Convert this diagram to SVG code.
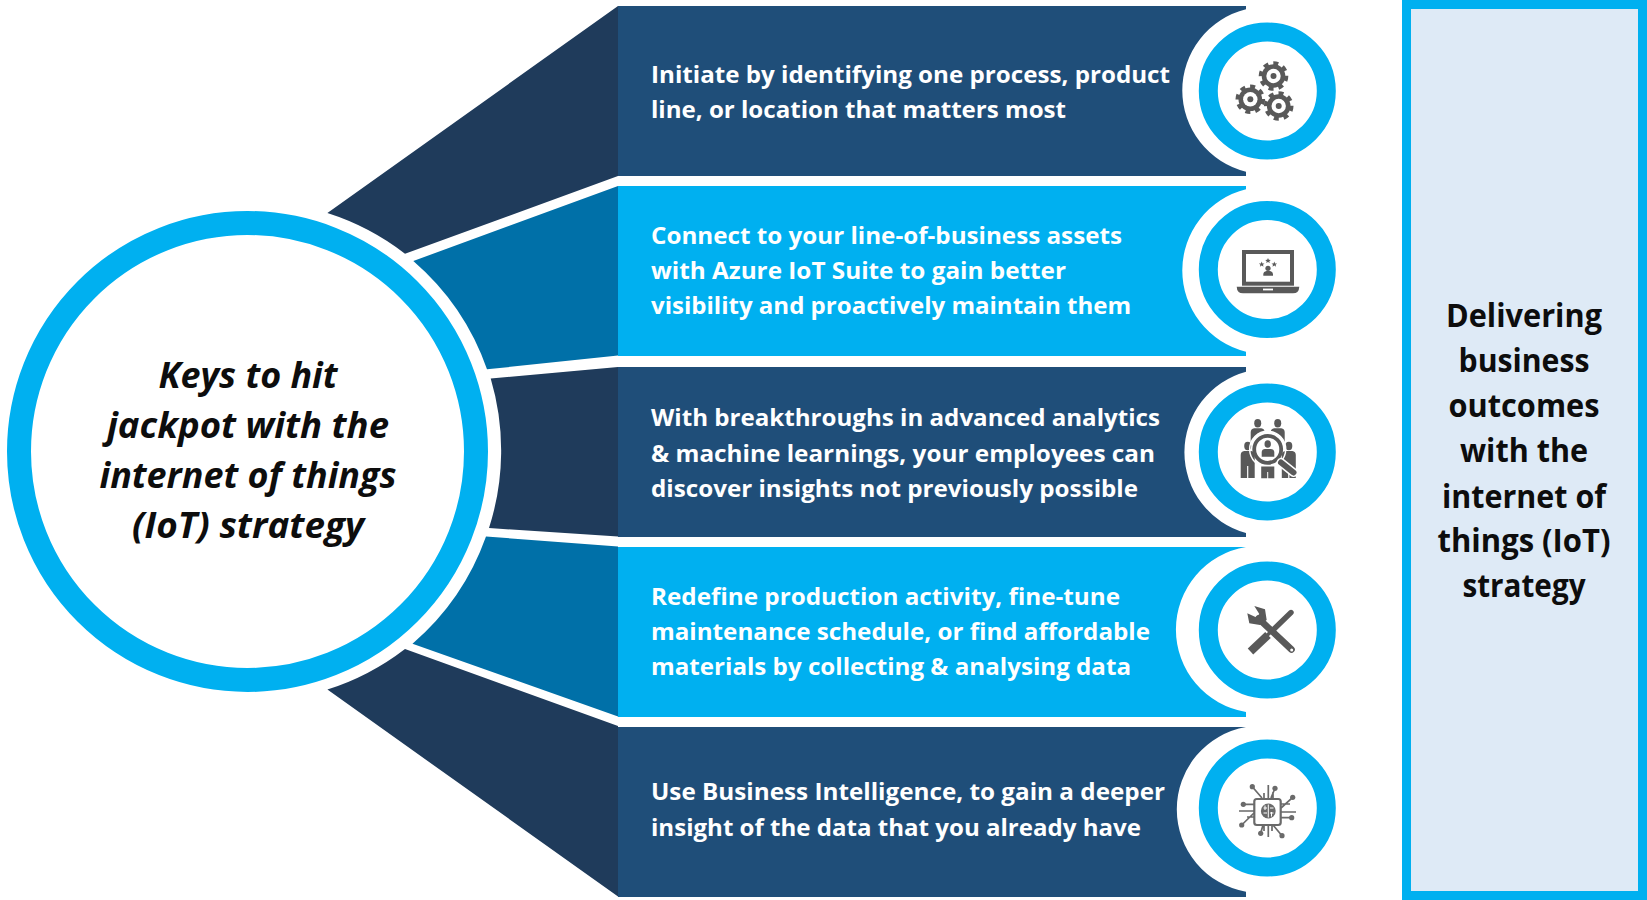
<svg xmlns="http://www.w3.org/2000/svg" width="1647" height="900" viewBox="0 0 1647 900">
<style>
text{font-family:"Open Sans","Noto Sans","Liberation Sans",sans-serif;font-weight:700}
.t{font-size:24px;fill:#fff}
.c{font-size:36px;font-style:italic;fill:#0d0d0d;text-anchor:middle}
.r{font-size:32px;fill:#0d0d0d;text-anchor:middle}
.dk{fill:#1f4e79}.lt{fill:#00b0f0}.dw{fill:#1f3b5b}.mw{fill:#0070a8}
.ring{fill:#fff;stroke:#00b0f0;stroke-width:19}
.g{fill:#595959}.w{fill:#fff}
.teeth{fill:none;stroke:#595959;stroke-width:4.4;stroke-dasharray:4.9 4.9}
.tr{fill:none;stroke:#6a6a6a;stroke-width:1.7}
.d{fill:#6a6a6a}
</style>
<defs>
<g id="gear"><circle class="teeth" r="12.6"/><circle class="g" r="11.8"/><circle class="w" r="7.2"/><circle class="g" r="3"/></g>
<polygon id="star" class="g" points="0,-2.8 .8,-.9 2.8,-.8 1.3,.5 1.8,2.4 0,1.3 -1.8,2.4 -1.3,.5 -2.8,-.8 -.8,-.9"/>
<g id="person"><ellipse class="g" cx="0" cy="0" rx="3.5" ry="4.2"/><path class="g" d="M-7,32V9Q-7,5.5 -3.5,5H3.5Q7,5.5 7,9V32H.6V20H-.6V32Z"/></g>
</defs>

<g id="node-1">
<path class="dw" d="M327.4,213L618,6V176L405,253.7A253 253 0 0 0 327.4,213Z"/>
<path class="dk" d="M618,6H1246V9.3A83.6 83.6 0 0 0 1246,171.7V176H618Z"/>
<text class="t" x="651" y="82.5" textLength="519" lengthAdjust="spacingAndGlyphs">Initiate by identifying one process, product</text>
<text class="t" x="651" y="118" textLength="415" lengthAdjust="spacingAndGlyphs">line, or location that matters most</text>
<circle class="ring" cx="1267.3" cy="91" r="59"/>
<g id="icon-gears"><use href="#gear" x="1273.5" y="76"/><use href="#gear" x="1250.3" y="99.3"/><use href="#gear" x="1278.7" y="106"/></g>
</g>

<g id="node-2">
<path class="mw" d="M413.3,261L618,186V355.5L487,369.3A253 253 0 0 0 413.3,261Z"/>
<path class="lt" d="M618,186H1246V189.3A83.6 83.6 0 0 0 1246,351.7V356H618Z"/>
<text class="t" x="651" y="243.5" textLength="471" lengthAdjust="spacingAndGlyphs">Connect to your line-of-business assets</text>
<text class="t" x="651" y="279" textLength="415" lengthAdjust="spacingAndGlyphs">with Azure IoT Suite to gain better</text>
<text class="t" x="651" y="314" textLength="480" lengthAdjust="spacingAndGlyphs">visibility and proactively maintain them</text>
<circle class="ring" cx="1267.3" cy="269.5" r="59"/>
<g id="icon-laptop">
<rect class="g" x="1242" y="250" width="52" height="35.7"/><rect class="w" x="1246" y="254" width="44" height="27.7"/>
<path class="g" d="M1236.7,286.7H1299.3Q1299,293.3 1293,293.3H1243Q1237,293.3 1236.7,286.7Z"/><rect class="w" x="1263" y="288.6" width="10" height="1.8"/>
<use href="#star" x="1261.7" y="264.3"/><use href="#star" x="1268" y="260.7"/><use href="#star" x="1274.3" y="264.3"/>
<circle class="g" cx="1268" cy="268.3" r="2.6"/><path class="g" d="M1263.3,275.7V274Q1263.5,271.5 1266.5,271H1269.5Q1272.8,271.5 1273,274V275.7Z"/>
</g>
</g>

<g id="node-3">
<path class="dw" d="M490.7,378.5L618,367V536.5L489,528A253 253 0 0 0 490.7,378.5Z"/>
<path class="dk" d="M618,367H1246V371.7A83.6 83.6 0 0 0 1246,533V537H618Z"/>
<text class="t" x="651" y="426" textLength="509" lengthAdjust="spacingAndGlyphs">With breakthroughs in advanced analytics</text>
<text class="t" x="651" y="461.5" textLength="504" lengthAdjust="spacingAndGlyphs">&amp; machine learnings, your employees can</text>
<text class="t" x="651" y="496.5" textLength="487" lengthAdjust="spacingAndGlyphs">discover insights not previously possible</text>
<circle class="ring" cx="1267.3" cy="452" r="59"/>
<g id="icon-people">
<use href="#person" x="1257.7" y="423.3"/><use href="#person" x="1277.7" y="423.3"/>
<circle cx="1267.7" cy="449.3" r="18" fill="#fff"/>
<use href="#person" x="1247.7" y="446"/>
<use href="#person" x="1288.8" y="446"/>
<circle cx="1267.7" cy="449.3" r="18" fill="none" stroke="#fff" stroke-width="1.5"/>
<path class="g" d="M1261.2,466.5H1274.3V478.3H1268.2V472H1267.2V478.3H1261.2Z"/>
<circle cx="1267.7" cy="449.3" r="13.5" fill="#fff" stroke="#595959" stroke-width="3.8"/>
<ellipse class="g" cx="1267.7" cy="444" rx="3.2" ry="3.8"/>
<path class="g" d="M1261.7,456.7V452Q1262,449 1265,449H1270.5Q1274,449 1274.3,452V456.7Z"/>
<line x1="1281" y1="462.5" x2="1293.5" y2="472.5" stroke="#fff" stroke-width="9" stroke-linecap="round"/>
<line x1="1281" y1="462.5" x2="1293.5" y2="472.5" stroke="#595959" stroke-width="6" stroke-linecap="round"/>
</g>
</g>

<g id="node-4">
<path class="mw" d="M486,536.5L618,546.5V716.4L412.5,643.7A253 253 0 0 0 486,536.5Z"/>
<path class="lt" d="M618,547H1246A83.6 83.6 0 0 0 1246,712V717H618Z"/>
<text class="t" x="651" y="604.5" textLength="469" lengthAdjust="spacingAndGlyphs">Redefine production activity, fine-tune</text>
<text class="t" x="651" y="639.5" textLength="499" lengthAdjust="spacingAndGlyphs">maintenance schedule, or find affordable</text>
<text class="t" x="651" y="675" textLength="480" lengthAdjust="spacingAndGlyphs">materials by collecting &amp; analysing data</text>
<circle class="ring" cx="1267.3" cy="630" r="59"/>
<g id="icon-tools">
<line x1="1291" y1="612.5" x2="1273.5" y2="629.5" stroke="#595959" stroke-width="5.4" stroke-linecap="round"/>
<line x1="1268" y1="635" x2="1250.5" y2="651.5" stroke="#595959" stroke-width="8"/>
<line x1="1273.5" y1="629" x2="1265" y2="637.5" stroke="#595959" stroke-width="3.4"/>
<line x1="1258.5" y1="618.5" x2="1291.5" y2="649.5" stroke="#595959" stroke-width="6.6" stroke-linecap="round"/>
<polygon class="g" points="1254.3,606 1265,609.3 1266.7,620 1260,625 1249.3,623.3 1247.3,613.3 1256,617.3 1259.3,614"/>
<circle class="w" cx="1291.7" cy="650" r="1.5"/>
</g>
</g>

<g id="node-5">
<path class="dw" d="M405,649L618,726V896.5L327.4,689.6A253 253 0 0 0 405,649Z"/>
<path class="dk" d="M618,727H1246A83.6 83.6 0 0 0 1246,891.7V897H618Z"/>
<text class="t" x="651" y="800" textLength="514" lengthAdjust="spacingAndGlyphs">Use Business Intelligence, to gain a deeper</text>
<text class="t" x="651" y="835.5" textLength="490" lengthAdjust="spacingAndGlyphs">insight of the data that you already have</text>
<circle class="ring" cx="1267.3" cy="808" r="59"/>
<g id="icon-chip">
<rect x="1254.3" y="799" width="26.4" height="26" rx="2.5" fill="none" stroke="#6a6a6a" stroke-width="2.2"/>
<circle cx="1268.3" cy="811" r="7.4" fill="#6a6a6a"/>
<path d="M1268.3,804.5V817.5M1263.5,808H1267M1263.5,813H1267M1270,808H1273.5M1270,813H1273.5M1265,805.5V810M1271.5,812V816.5" fill="none" stroke="#fff" stroke-width="1"/>
<path class="tr" d="M1252.3,786.7L1262,798M1275,788.3L1271,798M1292.7,797.3L1281,808M1291.7,817.7H1281M1282,835.7L1273,825M1260.7,833.3L1263,825M1241.7,825L1254,813M1243.3,804.3H1254M1268.3,785V798M1264,793V798M1273,792V798M1281,812H1296M1281,804H1290M1239,811H1254M1247,817H1254M1268.3,825V837M1264,825V831M1272,825V831"/>
<circle class="d" cx="1252.3" cy="786.7" r="2.6"/><circle class="d" cx="1275" cy="788.3" r="2.6"/><circle class="d" cx="1292.7" cy="797.3" r="2.6"/><circle class="d" cx="1291.7" cy="817.7" r="2.6"/><circle class="d" cx="1282" cy="835.7" r="2.6"/><circle class="d" cx="1260.7" cy="833.3" r="2.6"/><circle class="d" cx="1241.7" cy="825" r="2.6"/><circle class="d" cx="1243.3" cy="804.3" r="2.6"/>
</g>
</g>

<g id="hub">
<circle cx="247.5" cy="451.5" r="228.5" fill="#fff" stroke="#00b0f0" stroke-width="24"/>
<text class="c" x="248" y="388" textLength="179" lengthAdjust="spacingAndGlyphs">Keys to hit</text>
<text class="c" x="248" y="438" textLength="282" lengthAdjust="spacingAndGlyphs">jackpot with the</text>
<text class="c" x="248" y="488" textLength="297" lengthAdjust="spacingAndGlyphs">internet of things</text>
<text class="c" x="248" y="538" textLength="232" lengthAdjust="spacingAndGlyphs">(IoT) strategy</text>
</g>

<g id="outcome">
<rect x="1406.5" y="4.5" width="236" height="891" fill="#deeaf6" stroke="#00b0f0" stroke-width="9"/>
<text class="r" x="1524" y="327" textLength="156" lengthAdjust="spacingAndGlyphs">Delivering</text>
<text class="r" x="1524" y="372" textLength="131" lengthAdjust="spacingAndGlyphs">business</text>
<text class="r" x="1524" y="417" textLength="151" lengthAdjust="spacingAndGlyphs">outcomes</text>
<text class="r" x="1524" y="462" textLength="128" lengthAdjust="spacingAndGlyphs">with the</text>
<text class="r" x="1524" y="508" textLength="164" lengthAdjust="spacingAndGlyphs">internet of</text>
<text class="r" x="1524" y="552" textLength="173" lengthAdjust="spacingAndGlyphs">things (IoT)</text>
<text class="r" x="1524" y="597" textLength="123" lengthAdjust="spacingAndGlyphs">strategy</text>
</g>
<g id="connectors"/>
</svg>
